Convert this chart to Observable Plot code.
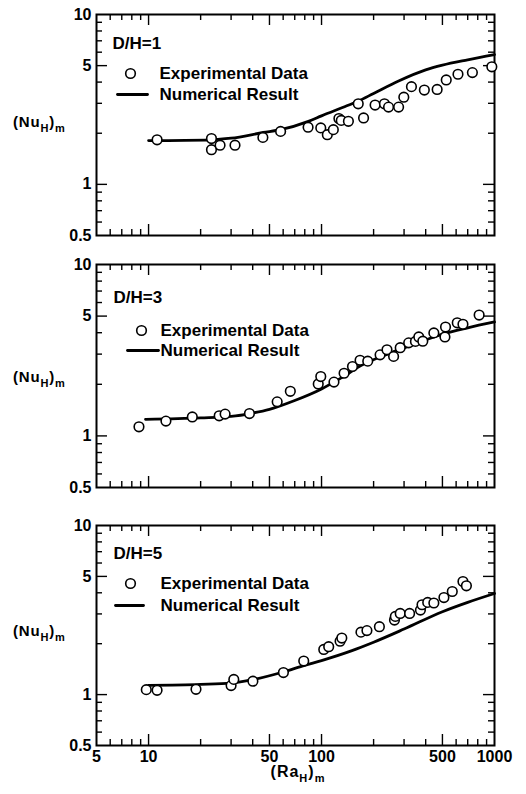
<!DOCTYPE html>
<html><head><meta charset="utf-8">
<script src="https://cdn.jsdelivr.net/npm/d3@7"></script>
<script src="https://cdn.jsdelivr.net/npm/@observablehq/plot@0.6"></script>
<style>
body{margin:0;background:#fff}
svg{display:block}
</style>
</head><body><div id="chart"></div>
<script>
// ---------- data ----------
const panelLabels = ["D/H=1", "D/H=3", "D/H=5"];
const legendLabels = ["Experimental Data", "Numerical Result"];
const xTickLabels = [5, 10, 50, 100, 500, 1000];
const yTickLabels = [0.5, 1, 5, 10];
const xMinorTicks = [6, 7, 8, 9, 20, 30, 40, 60, 70, 80, 90, 200, 300, 400, 600, 700, 800, 900];
const xMajorTicks = [10, 50, 100, 500];
const yMinorTicks = [0.6, 0.7, 0.8, 0.9, 2, 3, 4, 6, 7, 8, 9];
const yMajorTicks = [1, 5];

// D/H = 1
const exp1X = [11.2, 23.1, 23.1, 25.9, 31.6, 45.8, 58.0, 83.6, 99, 108, 117, 126, 130, 143, 163, 175, 204, 231, 244, 279, 299, 331, 393, 466, 526, 615, 745, 965];
const exp1Y = [1.83, 1.86, 1.60, 1.70, 1.70, 1.89, 2.05, 2.17, 2.15, 1.96, 2.10, 2.44, 2.38, 2.35, 2.98, 2.46, 2.93, 2.98, 2.85, 2.85, 3.26, 3.76, 3.59, 3.62, 4.12, 4.45, 4.55, 4.92];
const num1X = [10, 23, 30, 46, 58, 84, 100, 140, 163, 200, 279, 400, 500, 700, 1000];
const num1Y = [1.81, 1.83, 1.87, 2.02, 2.10, 2.35, 2.53, 2.90, 3.09, 3.43, 4.06, 4.72, 5.03, 5.41, 5.80];

// D/H = 3
const exp2X = [8.8, 12.6, 17.9, 25.6, 27.7, 38.3, 55.4, 66.0, 95.7, 99, 118, 135, 151, 167, 185, 218, 239, 261, 285, 319, 349, 365, 385, 446, 521, 517, 609, 657, 815];
const exp2Y = [1.13, 1.22, 1.29, 1.31, 1.34, 1.35, 1.58, 1.82, 2.01, 2.22, 2.06, 2.32, 2.54, 2.76, 2.73, 2.97, 3.18, 2.91, 3.27, 3.49, 3.56, 3.78, 3.57, 3.99, 4.32, 3.78, 4.57, 4.48, 5.07];
const num2X = [9.6, 20, 30, 40, 50, 70, 100, 130, 170, 250, 350, 500, 700, 1000];
const num2Y = [1.25, 1.275, 1.30, 1.36, 1.43, 1.61, 1.88, 2.18, 2.58, 3.04, 3.45, 3.92, 4.27, 4.62];

// D/H = 5
const exp3X = [9.7, 11.2, 18.8, 30.0, 31.1, 40.1, 60.2, 78.9, 103, 110, 128, 131, 169, 183, 216, 264, 267, 285, 323, 373, 381, 411, 446, 510, 570, 657, 688];
const exp3Y = [1.07, 1.06, 1.075, 1.13, 1.23, 1.20, 1.35, 1.58, 1.85, 1.92, 2.07, 2.16, 2.34, 2.39, 2.52, 2.76, 2.90, 3.02, 3.02, 3.16, 3.40, 3.51, 3.48, 3.75, 4.07, 4.66, 4.40];
const num3X = [10, 20, 30, 40, 60, 80, 100, 150, 200, 300, 500, 700, 1000];
const num3Y = [1.135, 1.15, 1.17, 1.225, 1.36, 1.49, 1.59, 1.82, 2.04, 2.44, 3.09, 3.51, 3.96];

// ---------- layout ----------
const FONT = "'Liberation Sans', Arial, sans-serif";
const W = 526, ML = 96, MR = 32;
const panels = [
  {label: panelLabels[0], ex: exp1X, ey: exp1Y, nx: num1X, ny: num1Y, height: 250, mt: 14, mb: 15,
   leg: {title: [16, 29], dot: [34, 59], line: [21, 80, 30], text: 63}, ylab: 127, xaxis: false},
  {label: panelLabels[1], ex: exp2X, ey: exp2Y, nx: num2X, ny: num2Y, height: 260, mt: 14, mb: 23,
   leg: {title: [17, 33], dot: [45, 66], line: [31, 86, 31], text: 64}, ylab: 132, xaxis: false},
  {label: panelLabels[2], ex: exp3X, ey: exp3Y, nx: num3X, ny: num3Y, height: 284, mt: 15, mb: 49,
   leg: {title: [17, 28], dot: [34, 58], line: [19, 80, 28], text: 64}, ylab: 126, xaxis: true}
];

const hLine = {draw(ctx, l) { ctx.moveTo(0, 0); ctx.lineTo(0, -l); }};

function makePanel(p) {
  const ph = p.height - p.mt - p.mb, pw = W - ML - MR;
  const exp = p.ex.map((x, i) => ({x, y: p.ey[i]}));
  const num = p.nx.map((x, i) => ({x, y: p.ny[i]}));
  const tk = {stroke: "black", strokeWidth: 1.4};
  const ticksX = (vals, L) => [
    Plot.ruleX(vals, {x: d => d, insetTop: ph - L, ...tk}),
    Plot.ruleX(vals, {x: d => d, insetBottom: ph - L, ...tk})
  ];
  const ticksY = (vals, L) => [
    Plot.ruleY(vals, {y: d => d, insetRight: pw - L, ...tk}),
    Plot.ruleY(vals, {y: d => d, insetLeft: pw - L, ...tk})
  ];
  const txt = {fontFamily: FONT, fontWeight: "bold", fill: "black"};
  const marks = [
    ...ticksX(xMinorTicks, 6), ...ticksX(xMajorTicks, 11),
    ...ticksY(yMinorTicks, 6), ...ticksY(yMajorTicks, 11),
    Plot.frame({stroke: "black", strokeWidth: 2}),
    Plot.text(yTickLabels, {y: d => d, text: d => String(d), frameAnchor: "left", textAnchor: "end", lineAnchor: "middle", dx: -5,
      fontSize: 16, ...txt, letterSpacing: 1}),
    Plot.line(num, {x: "x", y: "y", stroke: "black", strokeWidth: 2.8, curve: "monotone-x"}),
    Plot.dot(exp, {x: "x", y: "y", r: 4.8, stroke: "black", fill: "white", strokeWidth: 1.6}),
    // legend
    Plot.text([p.label], {text: d => d, frameAnchor: "top-left", textAnchor: "start", lineAnchor: "middle",
      dx: p.leg.title[0], dy: p.leg.title[1], fontSize: 17, ...txt, letterSpacing: 2.5}),
    Plot.dot([0], {frameAnchor: "top-left", dx: p.leg.dot[0], dy: p.leg.dot[1], r: 4.8, stroke: "black", fill: "white", strokeWidth: 1.6}),
    Plot.text([legendLabels[0]], {text: d => d, frameAnchor: "top-left", textAnchor: "start", lineAnchor: "middle",
      dx: p.leg.text, dy: p.leg.dot[1], fontSize: 17, ...txt, letterSpacing: 1.2}),
    Plot.vector([0], {frameAnchor: "top-left", dx: p.leg.line[0], dy: p.leg.line[1], length: p.leg.line[2], rotate: 90,
      anchor: "start", shape: hLine, stroke: "black", strokeWidth: 2.8}),
    Plot.text([legendLabels[1]], {text: d => d, frameAnchor: "top-left", textAnchor: "start", lineAnchor: "middle",
      dx: p.leg.text, dy: p.leg.line[1], fontSize: 17, ...txt, letterSpacing: 1.2})
  ];
  if (p.xaxis) {
    marks.push(Plot.text(xTickLabels, {x: d => d, text: d => String(d), frameAnchor: "bottom", lineAnchor: "middle", dy: 11,
      fontSize: 16, ...txt, letterSpacing: 1.2}));
  }
  const svg = Plot.plot({
    width: W, height: p.height, marginLeft: ML, marginRight: MR, marginTop: p.mt, marginBottom: p.mb,
    x: {type: "log", domain: [5, 1000], axis: null},
    y: {type: "log", domain: [0.5, 10], axis: null},
    style: {background: "white", color: "black", overflow: "visible"},
    marks
  });
  const s = d3.select(svg);
  const yl = s.append("text").attr("x", 13).attr("y", p.ylab).attr("text-anchor", "start")
    .attr("font-family", FONT).attr("font-weight", "bold").attr("font-size", 15).attr("fill", "black").attr("letter-spacing", 0.8);
  yl.append("tspan").text("(Nu");
  yl.append("tspan").attr("font-size", 11).attr("dy", 5).text("H");
  yl.append("tspan").attr("dy", -5).text(")");
  yl.append("tspan").attr("font-size", 11).attr("dy", 5).text("m");
  if (p.xaxis) {
    const xl = s.append("text").attr("x", 298).attr("y", 267).attr("text-anchor", "middle")
      .attr("font-family", FONT).attr("font-weight", "bold").attr("font-size", 16).attr("fill", "black").attr("letter-spacing", 1);
    xl.append("tspan").text("(Ra");
    xl.append("tspan").attr("font-size", 11).attr("dy", 5).text("H");
    xl.append("tspan").attr("dy", -5).text(")");
    xl.append("tspan").attr("font-size", 11).attr("dy", 5).text("m");
  }
  return svg;
}

const root = document.getElementById("chart");
panels.forEach(p => root.appendChild(makePanel(p)));
</script>
</body></html>
